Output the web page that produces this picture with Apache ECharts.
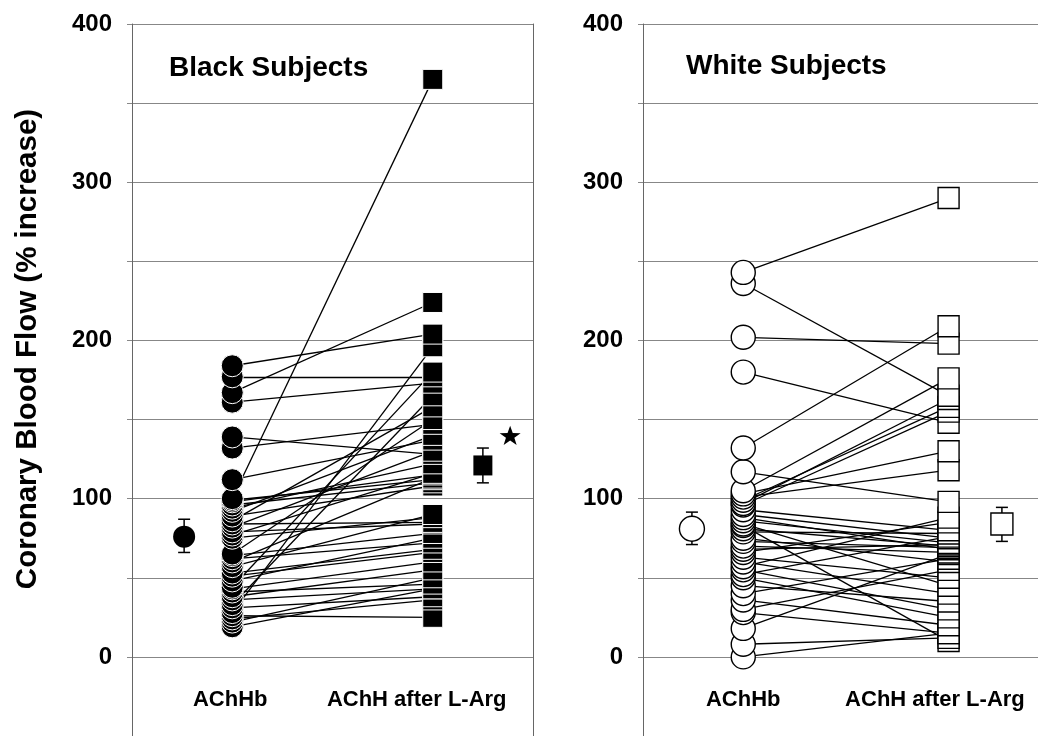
<!DOCTYPE html>
<html>
<head>
<meta charset="utf-8">
<script src="https://cdn.jsdelivr.net/npm/echarts@6/dist/echarts.min.js"></script>
<style>
html,body{margin:0;padding:0;background:#fff;}
#c{width:1038px;height:736px;}
</style>
</head>
<body>
<div id="c"></div>
<script>
// ---------------- data ----------------
const categoryLabels = ['AChHb', 'AChH after L-Arg'];
const yTickLabels = [0, 100, 200, 300, 400];
const panelTitles = ['Black Subjects', 'White Subjects'];
const yAxisName = 'Coronary Blood Flow (% increase)';

// Black subjects: individual values (paired by index)
const blackBefore = [184, 177, 167, 161, 139, 132, 112, 100, 99, 98, 96, 94, 92, 89, 86, 84, 82, 79, 77, 75,
                     65, 64, 62, 60, 57, 53, 51, 48, 44, 43, 41, 38, 36, 33, 31, 28, 26, 24, 22, 19];
const blackAfter  = [204, 177, 224, 173, 128, 147, 137, 365, 112, 115, 110, 122, 140, 108, 158, 85, 130, 84, 116, 88,
                     150, 78, 72, 113, 90, 68, 66, 75, 180, 60, 46, 55, 43, 165, 38, 196, 25, 36, 50, 43];

// White subjects: individual values (paired by index)
const whiteBefore = [243, 236, 202, 180, 132, 117, 105, 103, 101, 99, 97, 96, 93, 90, 88, 86, 84, 83, 81, 79,
                     75, 73, 70, 68, 66, 63, 60, 57, 55, 52, 50, 45, 40, 36, 30, 28, 18, 8, 0];
const whiteAfter  = [290, 165, 198, 148, 209, 98, 176, 130, 118, 158, 163, 155, 80, 75, 68, 72, 45, 10, 70, 78,
                     60, 69, 66, 71, 85, 50, 40, 88, 30, 76, 25, 35, 62, 20, 55, 15, 65, 12, 15];

// Group means with error bars: [mean, low, high]
const blackMeanBefore = [76, 66, 87];
const blackMeanAfter  = [121, 110, 132];
const whiteMeanBefore = [81, 71, 91.5];
const whiteMeanAfter  = [84, 73, 94.5];
const blackStarValue = 140;

// ---------------- layout ----------------
const FONT = "'Liberation Sans', Arial, Helvetica, sans-serif";
const panelX = [
  { meanPre: 13, pre: 25, post: 75, meanPost: 87.5, star: 94.3 },
  { meanPre: 12.2, pre: 25, post: 76.2, meanPost: 89.5 }
];
const labelPos = [[24.5, 71], [25, 72.8]];
const xMax = [100, 98.5];

const chart = echarts.init(document.getElementById('c'), null, { renderer: 'canvas' });

function yAxisFor(gridIndex, withName) {
  const ax = {
    gridIndex: gridIndex, type: 'value', min: -50, max: 400, interval: 50,
    axisLine: { show: true, lineStyle: { color: '#666', width: 1 } },
    axisTick: { show: true, length: 5, lineStyle: { color: '#888', width: 1 } },
    splitLine: { show: true, lineStyle: { color: '#878787', width: 1 } },
    axisLabel: {
      margin: 20, fontSize: 24, fontWeight: 'bold', color: '#000', fontFamily: FONT,
      formatter: v => yTickLabels.indexOf(v) >= 0 ? String(v) : ''
    }
  };
  if (withName) {
    ax.name = yAxisName;
    ax.nameLocation = 'middle';
    ax.nameGap = 89;
    ax.nameTextStyle = { fontSize: 29.5, fontWeight: 'bold', color: '#000', fontFamily: FONT, padding: [0, 0, 0, 62] };
  }
  return ax;
}

function xAxisFor(gridIndex) {
  const pos = labelPos[gridIndex];
  return {
    gridIndex: gridIndex, type: 'value', min: 0, max: xMax[gridIndex],
    axisLine: { show: false }, axisTick: { show: false }, splitLine: { show: false },
    axisLabel: {
      inside: true, margin: 25, fontSize: 22, fontWeight: 'bold', color: '#000', fontFamily: FONT,
      customValues: pos,
      formatter: v => {
        let best = 0, d = 1e9;
        pos.forEach((p, i) => { if (Math.abs(p - v) < d) { d = Math.abs(p - v); best = i; } });
        return categoryLabels[best];
      }
    }
  };
}

function errorBarSeries(xi, yi, items, color) {
  return {
    type: 'custom', xAxisIndex: xi, yAxisIndex: yi, z: 5, silent: true,
    encode: { x: 0, y: [1, 2] },
    data: items,
    renderItem: function (params, api) {
      const x = api.value(0), lo = api.value(1), hi = api.value(2);
      const p1 = api.coord([x, lo]), p2 = api.coord([x, hi]);
      const w = 6;
      const st = { stroke: color, lineWidth: 1.5 };
      return {
        type: 'group', children: [
          { type: 'line', shape: { x1: p1[0], y1: p1[1], x2: p2[0], y2: p2[1] }, style: st },
          { type: 'line', shape: { x1: p1[0] - w, y1: p1[1], x2: p1[0] + w, y2: p1[1] }, style: st },
          { type: 'line', shape: { x1: p2[0] - w, y1: p2[1], x2: p2[0] + w, y2: p2[1] }, style: st }
        ]
      };
    }
  };
}

function panelSeries(xi, yi, X, before, after, meanB, meanA, filled) {
  const lines = before.map((b, i) => ({ coords: [[X.pre, b], [X.post, after[i]]] }));
  const sortAsc = arr => arr.slice().sort((a, b) => a - b);
  const fill = filled ? '#000' : '#fff';
  const border = filled ? '#fff' : '#000';
  const bw = filled ? 1 : 1.4;
  return [
    {
      type: 'lines', coordinateSystem: 'cartesian2d', xAxisIndex: xi, yAxisIndex: yi,
      silent: true, z: 2,
      lineStyle: { color: '#000', width: 1.3, opacity: 1, curveness: 0 },
      data: lines
    },
    {
      type: 'scatter', xAxisIndex: xi, yAxisIndex: yi, z: 3, silent: true,
      symbol: 'circle', symbolSize: filled ? 22 : 24,
      itemStyle: { color: fill, borderColor: border, borderWidth: bw, opacity: 1 },
      data: sortAsc(before).map(v => [X.pre, v])
    },
    {
      type: 'scatter', xAxisIndex: xi, yAxisIndex: yi, z: 3, silent: true,
      symbol: 'rect', symbolSize: filled ? [20, 20] : [21, 21],
      itemStyle: { color: fill, borderColor: border, borderWidth: bw, opacity: 1 },
      data: sortAsc(after).map(v => [X.post, v])
    },
    errorBarSeries(xi, yi, [[X.meanPre, meanB[1], meanB[2]], [X.meanPost, meanA[1], meanA[2]]], '#000'),
    {
      type: 'scatter', xAxisIndex: xi, yAxisIndex: yi, z: 6, silent: true,
      symbol: 'circle', symbolSize: filled ? 22 : 25,
      itemStyle: { color: fill, borderColor: '#000', borderWidth: filled ? 0 : 1.4, opacity: 1 },
      data: [[X.meanPre, meanB[0]]]
    },
    {
      type: 'scatter', xAxisIndex: xi, yAxisIndex: yi, z: 6, silent: true,
      symbol: 'rect', symbolSize: filled ? [19, 20] : [22, 22],
      itemStyle: { color: fill, borderColor: '#000', borderWidth: filled ? 0 : 1.4, opacity: 1 },
      data: [[X.meanPost, meanA[0]]]
    }
  ];
}

const starPath = 'path://M0,-10L2.35,-3.24L9.51,-3.09L3.8,1.24L5.88,8.09L0,4L-5.88,8.09L-3.8,1.24L-9.51,-3.09L-2.35,-3.24Z';

const series = []
  .concat(panelSeries(0, 0, panelX[0], blackBefore, blackAfter, blackMeanBefore, blackMeanAfter, true))
  .concat(panelSeries(1, 2, panelX[1], whiteBefore, whiteAfter, whiteMeanBefore, whiteMeanAfter, false))
  .concat([{
    type: 'scatter', xAxisIndex: 0, yAxisIndex: 0, z: 6, silent: true,
    symbol: starPath, symbolSize: [21, 20], symbolKeepAspect: true,
    itemStyle: { color: '#000', opacity: 1 },
    data: [[panelX[0].star, blackStarValue]]
  }]);

const option = {
  backgroundColor: '#fff',
  animation: false,
  title: [
    { text: panelTitles[0], left: 169, top: 54, padding: 0,
      textStyle: { fontSize: 28, fontWeight: 'bold', color: '#000', fontFamily: FONT } },
    { text: panelTitles[1], left: 686, top: 52, padding: 0,
      textStyle: { fontSize: 28, fontWeight: 'bold', color: '#000', fontFamily: FONT } }
  ],
  grid: [
    { left: 132, top: 24, width: 401, bottom: -2, containLabel: false },
    { left: 643, top: 24, right: 0, bottom: -2, containLabel: false }
  ],
  xAxis: [xAxisFor(0), xAxisFor(1)],
  yAxis: [
    yAxisFor(0, true),
    { gridIndex: 0, type: 'value', min: -50, max: 400, position: 'right',
      axisLine: { show: true, lineStyle: { color: '#666', width: 1 } },
      axisTick: { show: false }, axisLabel: { show: false }, splitLine: { show: false } },
    yAxisFor(1, false)
  ],
  series: series
};

chart.setOption(option);
</script>
</body>
</html>
